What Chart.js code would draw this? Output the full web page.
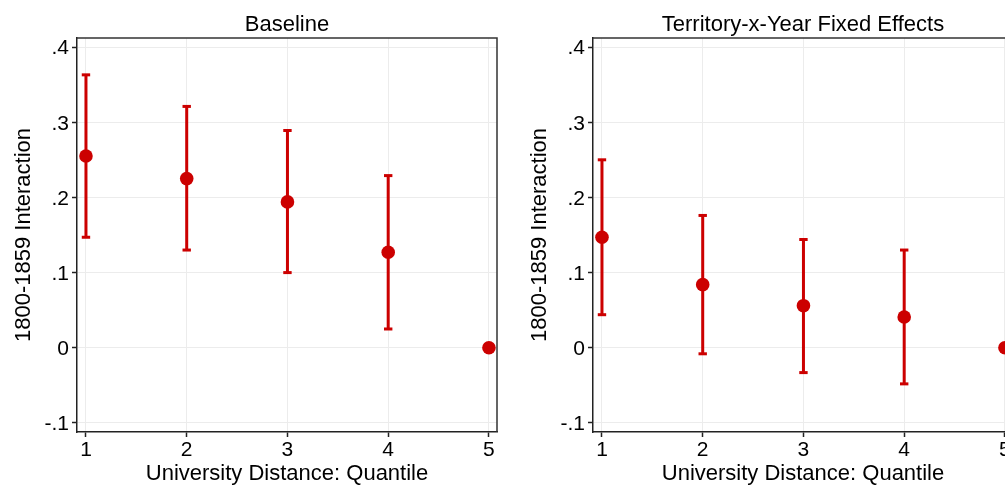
<!DOCTYPE html>
<html>
<head>
<meta charset="utf-8">
<script src="https://cdn.jsdelivr.net/npm/chart.js@4/dist/chart.umd.min.js"></script>
<style>
  html, body { margin: 0; padding: 0; background: #fff; overflow: hidden; width: 1005px; height: 485px; }
  #wrap { position: relative; width: 1005px; height: 485px; overflow: hidden; }
  canvas { position: absolute; top: 0; }
  #c1 { left: 0; }
  #c2 { left: 516px; }
</style>
</head>
<body>
<div id="wrap">
  <canvas id="c1" width="505" height="485"></canvas>
  <canvas id="c2" width="505" height="485"></canvas>
</div>
<script>
// ---- data ----
const quantiles = [1, 2, 3, 4, 5];
const xTickLabels = ['1', '2', '3', '4', '5'];
const yTickValues = [-0.1, 0, 0.1, 0.2, 0.3, 0.4];
const yTickLabels = ['-.1', '0', '.1', '.2', '.3', '.4'];

const panelTitles = ['Baseline', 'Territory-x-Year Fixed Effects'];
const yAxisTitle = '1800-1859 Interaction';
const xAxisTitle = 'University Distance: Quantile';

const baseEst = [0.255, 0.225, 0.194, 0.127, 0];
const baseLo  = [0.147, 0.130, 0.100, 0.025, null];
const baseHi  = [0.363, 0.321, 0.289, 0.229, null];

const fixedEst = [0.147, 0.084, 0.056, 0.041, 0];
const fixedLo  = [0.044, -0.008, -0.033, -0.048, null];
const fixedHi  = [0.250, 0.176, 0.144, 0.130, null];

// ---- style ----
const RED = '#cc0000';
const FONT = "'Liberation Sans', Arial, Helvetica, sans-serif";

const framePlugin = {
  id: 'frame',
  beforeDatasetsDraw(chart) {
    const { ctx, chartArea: a } = chart;
    ctx.save();
    ctx.strokeStyle = '#333';
    ctx.lineWidth = 1.5;
    ctx.beginPath();
    ctx.moveTo(a.left, a.top);
    ctx.lineTo(a.right, a.top);
    ctx.lineTo(a.right, a.bottom);
    ctx.stroke();
    ctx.restore();
  }
};

function makeChart(id, title, est, lo, hi) {
  const pts = quantiles.map((q, i) => ({ x: q, y: est[i] }));
  const bars = [];
  const caps = [];
  quantiles.forEach((q, i) => {
    if (lo[i] !== null && hi[i] !== null) {
      bars.push({ x: q, y: lo[i] }, { x: q, y: hi[i] }, { x: q, y: null });
      caps.push({ x: q, y: lo[i] }, { x: q, y: hi[i] });
    }
  });

  return new Chart(document.getElementById(id), {
    type: 'scatter',
    data: {
      datasets: [
        {
          label: 'estimate', data: pts, order: 0,
          pointRadius: 6.8, pointBackgroundColor: RED, pointBorderColor: RED,
          pointBorderWidth: 0, showLine: false
        },
        {
          label: 'caps', data: caps, order: 1,
          pointStyle: 'line', pointRadius: 4.2, pointBorderWidth: 3,
          pointBorderColor: RED, pointBackgroundColor: RED, showLine: false
        },
        {
          type: 'line', label: 'ci', data: bars, order: 2,
          showLine: true, spanGaps: false, borderColor: RED, borderWidth: 3,
          pointRadius: 0, borderCapStyle: 'butt', tension: 0
        }
      ]
    },
    options: {
      responsive: false,
      devicePixelRatio: 1,
      animation: false,
      events: [],
      layout: { padding: { left: 0, right: 8, top: 0, bottom: 0 } },
      plugins: {
        legend: { display: false },
        tooltip: { enabled: false },
        title: {
          display: true, text: title, color: '#000', fullSize: false,
          font: { family: FONT, size: 22, weight: 'normal', lineHeight: 1.2 },
          padding: { top: 11.6, bottom: 0 }
        }
      },
      scales: {
        x: {
          type: 'linear', min: 0.911, max: 5.08,
          afterFit(s) { s.height = 53; },
          afterBuildTicks(s) { s.ticks = quantiles.map(v => ({ value: v })); },
          ticks: {
            color: '#000', padding: 1,
            font: { family: FONT, size: 21 },
            callback: (v) => { const i = quantiles.indexOf(v); return i >= 0 ? xTickLabels[i] : ''; }
          },
          grid: { color: '#ececec', lineWidth: 1, tickColor: '#222', tickLength: 5, tickWidth: 1.5 },
          border: { color: '#222', width: 1.5 },
          title: {
            display: true, text: xAxisTitle, color: '#000',
            font: { family: FONT, size: 22, lineHeight: 1 },
            padding: { top: 0, bottom: 0 }
          }
        },
        y: {
          type: 'linear', min: -0.112, max: 0.412,
          afterFit(s) { s.width = 77; },
          afterBuildTicks(s) { s.ticks = yTickValues.map(v => ({ value: v })); },
          ticks: {
            color: '#000', padding: 3, labelOffset: 1.5,
            font: { family: FONT, size: 21 },
            callback: (v) => {
              const i = yTickValues.findIndex(t => Math.abs(t - v) < 1e-9);
              return i >= 0 ? yTickLabels[i] : '';
            }
          },
          grid: { color: '#ececec', lineWidth: 1, tickColor: '#222', tickLength: 5, tickWidth: 1.5 },
          border: { color: '#222', width: 1.5 },
          title: {
            display: true, text: yAxisTitle, color: '#000',
            font: { family: FONT, size: 22, lineHeight: 1.2 },
            padding: { top: 10.3, bottom: 0 }
          }
        }
      }
    },
    plugins: [framePlugin]
  });
}

makeChart('c1', panelTitles[0], baseEst, baseLo, baseHi);
makeChart('c2', panelTitles[1], fixedEst, fixedLo, fixedHi);
</script>
</body>
</html>
